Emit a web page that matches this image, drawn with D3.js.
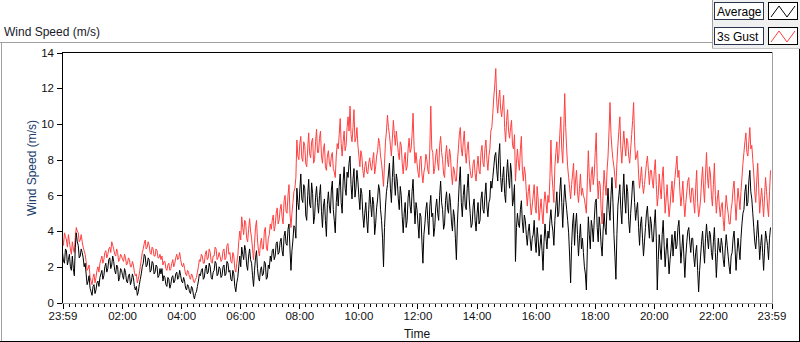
<!DOCTYPE html>
<html><head><meta charset="utf-8">
<script src="https://cdn.jsdelivr.net/npm/d3@7"></script>
<style>
html,body{margin:0;padding:0;background:#fff;overflow:hidden}
svg{display:block;font-family:"Liberation Sans",Arial,sans-serif}
</style>
</head><body>
<svg id="c" width="800" height="342"></svg>
<script>
// ---- data ----
const sampleStepMin = 2; // minutes between samples, starting at 23:59
const seriesNames = ["Average", "3s Gust"];
const average = [
2.8,2.3,2.2,3.0,2.9,2.1,2.4,2.7,2.0,1.8,2.6,1.9,1.5,3.1,3.9,3.4,3.2,2.5,2.6,3.0,
2.8,2.5,2.0,2.2,1.6,1.0,1.2,1.5,0.8,0.6,0.4,0.9,1.0,0.5,0.7,1.1,1.2,0.9,1.4,1.6,
1.8,1.3,1.5,2.0,2.2,1.7,1.9,2.4,2.5,1.9,2.1,2.6,2.3,1.8,1.6,2.1,2.0,1.2,1.4,1.9,
1.8,1.5,1.3,1.9,1.7,1.2,1.1,1.5,1.6,1.0,1.2,1.6,1.4,0.9,0.7,0.9,0.4,0.6,1.0,1.3,
1.6,2.0,2.2,2.7,2.6,2.0,2.1,2.5,2.4,1.7,1.8,2.3,2.2,1.6,1.7,2.1,2.0,1.4,1.5,1.9,
1.6,1.9,1.2,1.5,1.4,1.0,0.9,1.4,1.3,0.8,1.0,1.4,1.5,1.1,1.2,1.6,1.7,1.3,1.4,1.8,
1.5,1.2,1.1,1.4,1.2,0.8,0.7,1.0,0.9,0.6,0.5,0.9,0.8,0.4,0.2,0.5,0.6,0.9,1.2,1.6,
1.5,1.8,1.9,1.3,1.4,1.9,2.1,1.6,1.7,2.2,2.0,1.4,1.3,1.7,1.8,2.3,2.2,1.5,1.6,2.0,
1.9,1.4,1.5,2.0,2.1,1.5,1.6,2.3,2.2,1.7,1.8,1.3,1.2,1.8,1.6,0.9,0.6,1.1,1.4,2.0,
2.6,2.0,3.1,2.7,2.4,3.2,2.9,2.1,1.8,2.6,3.0,2.4,2.2,1.5,0.9,1.8,2.5,2.9,1.9,1.4,
1.2,1.8,2.0,1.5,1.6,2.3,2.2,1.3,1.4,2.1,1.9,2.6,2.3,2.9,3.0,2.4,2.6,3.3,3.4,2.7,
2.8,3.4,3.6,2.9,2.6,3.7,4.0,3.3,3.2,4.1,4.4,3.0,1.8,2.9,3.5,4.3,4.2,3.6,6.4,5.6,
5.2,6.3,7.2,5.8,5.6,6.6,6.4,4.9,4.6,6.0,6.9,5.5,5.3,6.7,6.1,4.4,4.8,5.9,6.5,5.6,
5.0,6.0,6.6,5.1,4.2,5.4,5.8,4.6,3.7,5.5,6.2,5.4,5.0,6.3,6.8,5.2,4.6,3.9,5.6,6.4,
5.4,6.5,7.2,5.6,5.0,6.8,7.6,6.4,6.0,7.3,7.0,7.8,8.2,6.6,5.8,6.9,7.5,5.9,6.4,7.4,
6.8,5.9,5.2,6.4,6.1,4.9,4.2,5.0,5.6,4.6,3.9,5.2,6.3,5.5,4.8,5.9,5.5,3.8,4.4,5.3,
5.8,6.6,6.3,5.2,4.6,3.6,2.0,4.2,5.4,6.2,6.6,7.2,7.8,6.4,5.6,7.0,8.2,6.8,6.0,7.2,
6.8,5.8,5.2,6.5,6.0,4.8,3.9,5.0,5.6,4.2,4.6,5.9,6.3,5.4,5.0,6.2,6.9,5.5,4.4,5.6,
5.2,4.4,3.6,5.0,4.8,3.4,2.2,3.8,4.4,5.2,5.6,4.6,3.8,5.4,6.0,4.8,5.0,3.7,4.2,5.3,
5.8,5.0,4.6,6.0,6.8,5.6,5.2,4.1,4.4,5.7,6.2,5.3,5.0,6.1,5.6,4.5,4.0,5.2,4.8,3.6,
2.4,4.4,5.6,6.8,7.6,5.6,4.8,6.0,6.6,5.4,5.2,6.4,7.2,5.8,5.0,4.2,4.4,5.4,5.8,4.6,
4.0,5.0,5.6,4.4,4.6,5.8,6.2,5.2,5.0,6.0,6.7,5.4,4.8,5.6,5.8,6.8,6.4,7.0,7.6,8.2,
8.4,7.4,6.8,8.2,8.9,7.0,6.2,7.0,7.6,6.1,5.6,7.2,8.0,7.0,6.4,7.8,7.2,5.4,5.8,6.6,
2.3,4.2,5.0,4.4,4.2,5.2,5.7,4.5,3.9,4.9,4.6,3.8,3.2,4.0,4.4,3.5,2.9,3.6,3.8,4.6,
3.4,2.8,4.2,3.6,2.6,3.2,3.8,2.9,1.8,3.4,4.4,3.6,3.0,4.0,3.6,4.6,5.2,4.4,4.0,3.2,
4.6,5.4,6.2,4.8,5.0,6.2,7.0,5.6,4.2,5.6,6.6,5.8,5.2,4.6,3.9,2.6,1.1,3.2,4.4,5.0,
3.2,4.4,5.0,3.8,2.6,3.6,4.4,3.0,3.6,2.8,2.0,1.6,0.7,3.0,4.8,3.8,3.0,4.6,4.2,3.4,
4.6,5.6,5.8,4.2,3.4,4.8,4.2,3.2,2.6,4.0,5.0,4.2,3.8,5.4,6.4,5.2,4.6,6.0,7.0,5.6,
3.8,2.6,1.3,3.8,5.4,6.0,6.6,5.2,4.4,6.0,7.2,5.8,5.0,6.6,6.2,4.6,3.9,5.0,5.8,6.8,
6.8,5.6,4.6,5.2,5.6,4.2,3.2,4.4,4.8,3.6,2.6,3.4,4.2,5.0,5.4,4.4,3.6,4.8,4.4,3.4,
3.4,4.4,5.2,3.6,0.7,2.4,3.8,3.0,2.4,3.8,4.6,3.2,2.0,2.9,3.6,2.6,1.6,2.4,3.0,3.8,
2.6,3.4,4.0,3.0,3.2,4.2,4.6,3.4,2.2,3.0,3.8,2.6,1.4,2.6,3.4,4.0,4.2,3.4,2.8,3.6,
3.6,2.6,2.0,2.8,3.2,1.8,0.6,1.8,2.6,3.4,4.0,3.0,2.2,3.6,4.4,3.6,3.0,4.0,3.8,2.8,
2.4,3.4,4.2,2.8,1.4,2.6,3.6,3.0,2.8,3.6,3.2,2.4,2.0,3.0,3.8,3.2,2.6,2.0,1.6,2.6,
2.8,3.6,4.0,3.0,1.8,2.8,3.6,3.0,2.4,3.6,4.4,5.0,5.2,6.2,6.6,5.4,5.6,6.8,7.4,6.2,
5.8,5.0,4.2,3.4,3.0,3.8,4.6,3.6,2.4,3.2,3.8,2.8,1.8,3.0,4.0,3.6,3.2,2.4,3.6,4.2
];
const gust3s = [
3.6,3.2,3.9,3.7,3.5,3.1,3.8,3.4,3.0,2.7,3.4,3.0,2.8,3.7,4.2,4.0,3.9,3.4,3.5,3.8,
3.4,3.1,2.9,2.7,2.3,1.8,1.9,2.1,1.4,1.2,1.0,1.4,1.6,1.1,1.4,1.8,2.0,1.7,2.2,2.4,
2.6,2.2,2.4,2.8,2.9,2.5,2.7,3.0,3.1,2.8,3.4,3.2,3.0,2.7,2.6,3.0,2.8,2.3,2.4,2.7,
2.6,2.4,2.3,2.7,2.5,2.1,2.2,2.5,2.4,2.0,2.0,2.3,2.1,1.7,1.5,1.6,1.1,1.3,1.6,2.0,
2.4,2.8,3.0,3.3,3.5,3.0,3.1,3.4,3.2,2.8,2.7,3.1,3.0,2.6,2.6,3.0,2.9,2.5,2.5,2.7,
2.4,2.6,2.1,2.3,2.3,1.9,1.8,2.1,2.2,1.8,1.9,2.2,2.4,2.0,2.2,2.5,2.7,2.4,2.5,2.8,
2.4,2.1,2.0,2.2,1.9,1.6,1.5,1.8,1.7,1.4,1.3,1.6,1.5,1.2,1.1,1.3,1.4,1.7,2.0,2.4,
2.3,2.7,2.6,2.2,2.2,2.7,2.9,2.4,2.5,3.0,2.8,2.3,2.2,2.6,2.6,3.1,3.0,2.4,2.5,2.8,
2.6,2.3,2.4,2.9,3.0,2.4,2.5,3.2,3.3,2.7,2.8,2.3,2.2,2.8,2.6,1.9,1.7,2.2,2.6,3.4,
4.0,3.5,4.8,4.2,3.8,4.6,4.5,3.6,3.4,4.1,4.7,4.0,3.6,3.0,2.4,3.3,4.2,4.6,3.5,2.9,
2.6,3.3,3.6,3.0,3.0,4.0,4.2,3.1,2.9,3.6,3.8,4.4,4.1,4.6,4.9,4.0,4.3,5.0,5.3,4.4,
4.6,5.2,5.5,4.8,4.4,5.7,6.0,5.1,5.0,6.0,6.6,5.0,4.2,5.0,5.6,6.2,6.4,7.0,9.1,8.2,
8.0,8.9,9.3,8.1,7.9,9.0,8.8,7.8,7.6,8.6,9.5,8.3,8.1,9.0,9.2,7.8,8.0,9.0,9.7,8.4,
8.4,9.2,9.6,8.2,7.8,8.6,8.9,7.6,7.4,8.2,8.5,7.8,7.6,8.2,8.4,7.5,7.3,7.0,8.2,8.9,
8.6,9.4,10.3,8.9,8.2,9.0,9.6,8.5,8.8,9.8,10.4,9.6,11.0,9.4,9.0,9.8,10.8,9.0,9.2,9.8,
8.8,8.2,7.6,8.5,8.2,7.4,7.0,7.6,7.9,7.3,7.2,7.8,8.1,7.6,7.4,8.0,8.4,7.2,7.6,8.2,
8.5,9.2,8.9,8.2,7.8,7.2,6.5,7.8,9.0,9.6,10.5,9.8,9.4,8.8,8.2,9.2,10.2,9.4,8.8,9.6,
9.0,8.4,8.0,9.0,8.8,7.8,7.2,8.0,8.4,7.4,7.6,8.6,9.2,8.4,8.6,9.4,10.6,8.8,7.8,8.4,
7.8,7.3,7.0,8.0,8.2,7.2,6.7,7.3,7.6,8.3,8.0,7.4,7.2,8.6,11.0,8.6,8.4,7.2,7.5,8.2,
8.6,7.8,7.4,8.8,9.3,8.4,8.0,7.2,7.0,8.2,8.8,8.0,7.6,8.6,8.2,7.2,6.6,7.6,7.4,6.8,
6.8,7.8,8.6,9.4,9.8,8.6,8.2,9.0,9.6,8.4,7.8,8.6,9.0,8.0,7.4,7.0,7.0,7.8,8.0,7.2,
6.8,7.6,8.2,7.4,7.2,8.4,8.8,7.8,7.6,8.6,9.1,8.0,7.4,8.2,8.6,9.6,9.8,10.6,11.5,12.2,
13.1,11.2,10.6,11.4,11.9,10.8,10.4,11.0,11.6,9.8,9.0,10.2,10.8,9.6,9.2,9.8,10.2,8.8,8.6,9.4,
6.8,7.8,8.6,7.8,7.4,8.6,9.3,7.4,6.8,7.6,7.2,6.2,5.4,6.2,6.6,5.6,4.9,5.4,6.0,6.6,
5.4,5.0,6.5,5.8,4.6,5.2,5.8,5.0,4.4,5.6,6.2,5.6,5.0,6.0,5.6,7.0,9.1,7.2,6.4,5.6,
7.6,8.4,9.0,7.8,8.2,9.4,10.4,8.6,7.8,9.6,11.7,9.8,8.6,7.6,7.0,6.4,5.8,6.6,7.2,7.8,
6.0,6.8,7.4,6.2,5.6,6.4,7.2,6.0,6.4,6.0,5.8,5.4,5.0,6.8,8.5,7.0,6.2,7.2,7.6,6.6,
7.2,8.4,9.5,7.0,5.8,6.8,6.6,5.2,4.4,6.2,7.4,6.6,6.0,7.4,8.2,9.6,11.2,9.4,8.6,8.0,
7.6,7.0,6.4,7.8,8.8,9.6,10.4,8.6,7.8,8.8,9.6,8.8,8.2,9.2,9.0,8.2,7.8,8.6,9.4,10.2,
11.2,9.0,8.0,8.2,8.5,7.2,6.4,7.0,7.6,6.6,6.1,6.6,7.2,7.8,8.2,7.4,6.6,7.4,7.4,6.8,
6.4,7.4,8.0,6.6,5.4,6.0,7.2,6.4,5.8,7.0,7.6,6.2,5.0,5.8,6.6,5.6,4.8,5.4,6.2,6.8,
5.6,6.4,7.0,7.6,8.2,7.0,7.4,6.2,5.4,6.0,6.8,5.6,4.8,5.6,6.2,6.8,7.0,6.0,5.6,6.4,
6.4,5.6,5.0,6.4,7.4,5.6,4.8,5.2,5.8,6.8,7.6,6.4,5.6,7.2,8.4,7.0,6.4,7.6,7.2,6.0,
5.4,6.6,7.8,6.0,5.0,5.8,6.3,5.4,4.8,5.4,5.6,4.6,4.0,5.2,6.0,5.4,5.0,4.4,4.4,5.2,
5.6,6.4,6.8,5.6,4.6,5.6,6.4,5.8,5.2,6.2,7.0,7.8,8.4,9.0,9.5,8.4,8.2,9.0,9.8,8.6,
8.8,8.0,7.2,6.2,5.6,6.8,7.8,6.4,5.0,5.8,6.4,5.6,4.8,6.0,7.0,6.2,5.4,4.8,6.2,7.4
];
const xTickMinutes = [0,121,241,361,481,601,721,841,961,1081,1201,1321,1440];
const xTickLabels = ["23:59","02:00","04:00","06:00","08:00","10:00","12:00","14:00","16:00","18:00","20:00","22:00","23:59"];
const yTickValues = [0,2,4,6,8,10,12,14];

// ---- drawing ----
const svg = d3.select("#c");
const L = 62, R = 772, T = 52, B = 303;
const x = d3.scaleLinear().domain([0,1440]).range([L+0.5, R-0.5]);
const y = d3.scaleLinear().domain([0,14]).range([B-0.5, T+0.5]);

// outer panel frame
svg.append("rect").attr("x",0).attr("y",0).attr("width",800).attr("height",342).attr("fill","#fff");
svg.append("line").attr("x1",0).attr("x2",712).attr("y1",42.5).attr("y2",42.5).attr("stroke","#a0a0a0");
svg.append("line").attr("x1",1.5).attr("x2",1.5).attr("y1",42).attr("y2",341).attr("stroke","#a0a0a0");
svg.append("line").attr("x1",0).attr("x2",800).attr("y1",341.5).attr("y2",341.5).attr("stroke","#000");
svg.append("line").attr("x1",799.5).attr("x2",799.5).attr("y1",49).attr("y2",342).attr("stroke","#000");

// legend panel
svg.append("rect").attr("x",712).attr("y",0).attr("width",88).attr("height",49).attr("fill","#f0f0f0");
svg.append("line").attr("x1",712.5).attr("x2",712.5).attr("y1",0).attr("y2",49).attr("stroke","#a0a0a0");
svg.append("line").attr("x1",712).attr("x2",800).attr("y1",48.5).attr("y2",48.5).attr("stroke","#c8c8c8");

// chart title
svg.append("text").attr("x",4).attr("y",35.5).attr("font-size",12).attr("fill","#1a1a2a").text("Wind Speed (m/s)");

// data lines (gust first, average on top)
const line = d3.line().x((d,i)=>x(i*sampleStepMin)).y(d=>y(d));
const plot = svg.append("g");
plot.append("path").datum(gust3s).attr("d",line).attr("fill","none").attr("stroke","#ff4040").attr("stroke-width",1);
plot.append("path").datum(average).attr("d",line).attr("fill","none").attr("stroke","#000").attr("stroke-width",1);

// plot frame
svg.append("line").attr("x1",L).attr("x2",R).attr("y1",T+0.5).attr("y2",T+0.5).attr("stroke","#000");
svg.append("line").attr("x1",L+0.5).attr("x2",L+0.5).attr("y1",T).attr("y2",B).attr("stroke","#000");
svg.append("line").attr("x1",R+0.5).attr("x2",R+0.5).attr("y1",T).attr("y2",B+1).attr("stroke","#a0a0a0");
svg.append("line").attr("x1",L).attr("x2",R+1).attr("y1",B+0.5).attr("y2",B+0.5).attr("stroke","#a0a0a0");

// x axis
const minorTicks = d3.range(1,1440,12).filter(m => (m-1) % 120 !== 0);
const gxMinor = svg.append("g").attr("transform",`translate(0,${B+1})`)
  .call(d3.axisBottom(x).tickValues(minorTicks).tickSize(3).tickFormat(""));
const gx = svg.append("g").attr("transform",`translate(0,${B+1})`)
  .call(d3.axisBottom(x).tickValues(xTickMinutes).tickSize(5).tickPadding(3).tickFormat((d,i)=>xTickLabels[i]));
[gx,gxMinor].forEach(g=>{g.select(".domain").remove(); g.selectAll("line").attr("stroke","#000").attr("shape-rendering","crispEdges");});
gx.selectAll("text").attr("font-size",11.5).attr("fill","#111").attr("font-family","Liberation Sans, Arial, sans-serif");

// y axis
const gy = svg.append("g").attr("transform",`translate(${L},0)`)
  .call(d3.axisLeft(y).tickValues(yTickValues).tickSize(5).tickPadding(3));
gy.select(".domain").remove();
gy.selectAll("line").attr("stroke","#000").attr("shape-rendering","crispEdges");
gy.selectAll("text").attr("font-size",11.5).attr("fill","#111").attr("font-family","Liberation Sans, Arial, sans-serif");

// axis titles
svg.append("text").attr("x",(L+R)/2).attr("y",338).attr("text-anchor","middle").attr("font-size",12).attr("fill","#111").text("Time");
svg.append("text").attr("transform","translate(36,168) rotate(-90)").attr("text-anchor","middle").attr("font-size",12).attr("fill","#203c6c").text("Wind Speed (m/s)");

// legend
const legendColors = ["#000","#ff4040"];
const legendZig = [[0,1],[1,0],[2,1],[3,0]];
const leg = svg.append("g");
seriesNames.forEach((name,i)=>{
  const yy = 2 + i*25;
  leg.append("rect").attr("x",714.5).attr("y",yy+0.5).attr("width",49).attr("height",17).attr("fill","#fff").attr("stroke","#2a3550");
  leg.append("text").attr("x",717).attr("y",yy+14).attr("font-size",12).attr("fill","#000").text(name);
  leg.append("rect").attr("x",768.5).attr("y",yy+0.5).attr("width",29).attr("height",17).attr("fill","#fff").attr("stroke","#000");
  leg.append("path").attr("d",d3.line().x(d=>771+d[0]*8).y(d=>yy+4+d[1]*11)(legendZig))
    .attr("fill","none").attr("stroke",legendColors[i]).attr("stroke-width",1);
});
</script>
</body></html>
